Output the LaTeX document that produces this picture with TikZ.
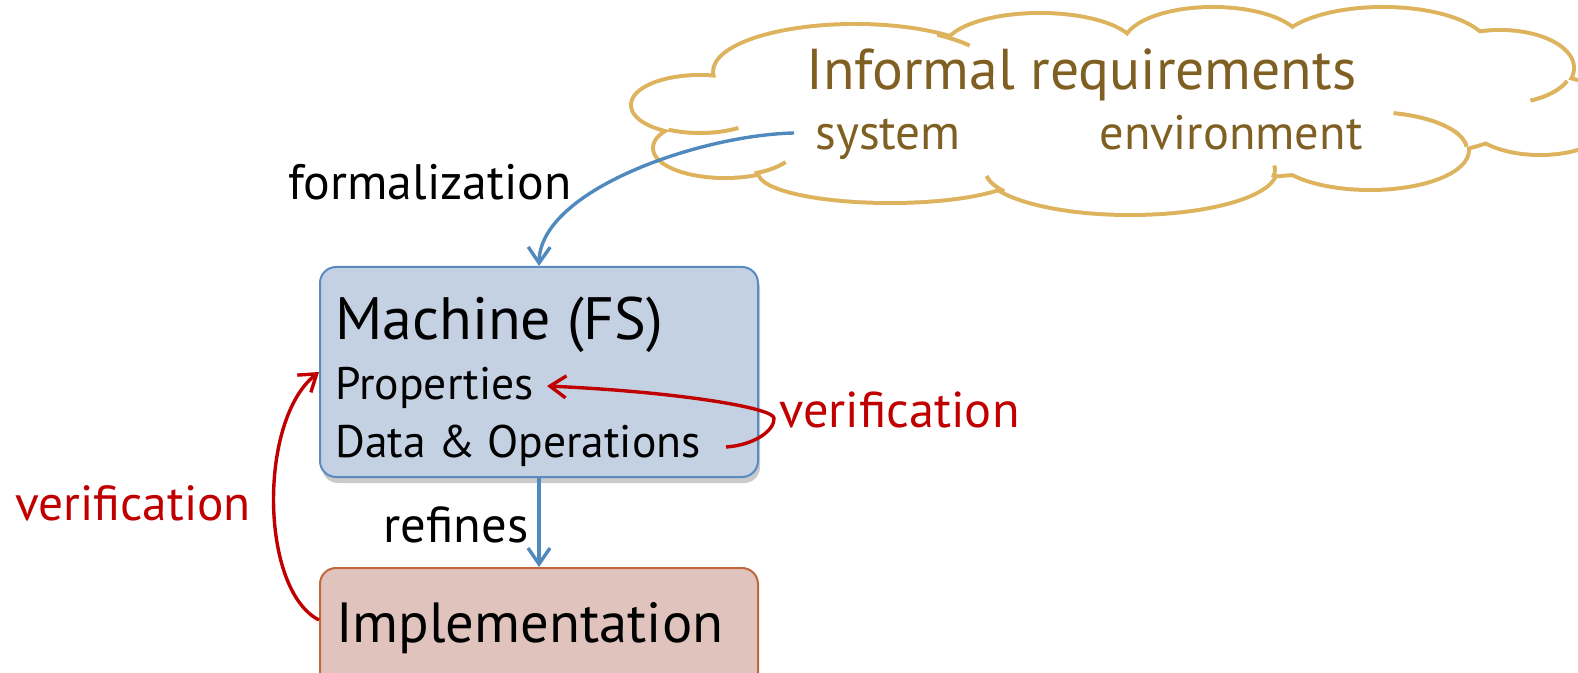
\documentclass[tikz,border=0pt]{standalone}
\usepackage{fontspec}
\setmainfont{PT Sans}
\usetikzlibrary{arrows.meta,shadows}
\definecolor{fsfill}{HTML}{C3D1E2}
\definecolor{fsedge}{HTML}{5A8AC0}
\definecolor{implfill}{HTML}{DFC3BC}
\definecolor{impledge}{HTML}{C0683C}
\definecolor{cloudedge}{HTML}{DDB35E}
\definecolor{cloudtext}{HTML}{7F6022}
\definecolor{arrblue}{HTML}{5089BD}
\definecolor{verred}{HTML}{C00000}
\tikzset{
  lbl/.style={anchor=base west, inner sep=0pt},
  boxnode/.style={rectangle, rounded corners=8pt, line width=1pt, minimum width=219pt, inner sep=0pt},
  refarrow/.style={draw=arrblue, line width=1.7pt, -{Straight Barb[length=8pt,width=11pt]}},
  verarrow/.style={draw=verred, line width=1.7pt, -{Straight Barb[length=8pt,width=11pt]}},
}
\newcommand{\fsz}[1]{\fontsize{#1}{#1}\selectfont}
% puffs of the cloud: centre x / centre y / x radius / y radius
\newcommand{\cloudpuffs}{700/105/67/28, 855/72/140/46, 725/148/70/28, 890/172/130/29,
  1130/170/145/43, 1370/150/97/38, 1540/115/75/38, 1500/68/72/36,
  1383/50/105/41, 1213/45/88/36, 1040/50/95/35, 1110/110/420/70}

\begin{document}
\begin{tikzpicture}[x=0.5pt, y=-0.5pt, line join=round]
\useasboundingbox (0,0) rectangle (1578,673);
% requirements cloud
\foreach \cx/\cy/\rx/\ry in \cloudpuffs
  \draw[cloudedge, line width=4pt] (\cx,\cy) ellipse [x radius=\rx, y radius=\ry];
\foreach \cx/\cy/\rx/\ry in \cloudpuffs
  \fill[white] (\cx,\cy) ellipse [x radius=\rx, y radius=\ry];
\foreach \cx/\cy/\rx/\ry/\sa/\ea in {700/105/67/28/118/55, 725/148/70/28/65/30,
    855/72/140/46/-54/-35, 1500/68/72/36/21/65, 1370/150/97/38/-5/-76,
    1130/170/145/43/150/172, 1130/170/145/43/10/-6}
  \draw[cloudedge, line width=2pt] (\cx,\cy) ++({\rx*cos(\sa)},{\ry*sin(\sa)})
    arc [start angle=\sa, end angle=\ea, x radius=\rx, y radius=\ry];
\node[lbl, font=\fsz{28.8}, text=cloudtext] (informal) at (806,90) {Informal requirements};
\node[lbl, font=\fsz{24.6}, text=cloudtext] (system) at (815,150) {system};
\node[lbl, font=\fsz{24.2}, text=cloudtext] (environment) at (1099,150) {environment};
% boxes
\node[boxnode, fill=fsfill, draw=fsedge, minimum height=105pt,
  drop shadow={shadow xshift=1pt, shadow yshift=-3pt, opacity=0.35, fill=black!60}] (machine) at (539,372) {};
\node[boxnode, fill=implfill, draw=impledge, minimum height=62pt] (impl) at (539,630) {};
\node[lbl, font=\fsz{29.9}] (fsname) at (335,340) {Machine (FS)};
\node[lbl, font=\fsz{22.8}] (props) at (335,400) {Properties};
\node[lbl, font=\fsz{22.8}] (dataops) at (335,457) {Data \& Operations};
\node[lbl, font=\fsz{28.3}] (implname) at (336,642) {Implementation};
% labels
\node[lbl, font=\fsz{24.9}] (formal) at (288,200) {formalization};
\node[lbl, font=\fsz{25.3}] (refines) at (383,542) {refines};
\node[lbl, font=\fsz{25.2}, text=verred] (verright) at (779,427) {verification};
\node[lbl, font=\fsz{24.7}, text=verred] (verleft) at (15,520) {verification};
% arrows
\coordinate (formstart) at (794,133);
\coordinate (verstart) at (726,447);
\coordinate (verturn) at (774,418);
\coordinate (propsend) at (547,386);
\draw[refarrow] (formstart) .. controls (700,135) and (540,190) .. (machine.north);
\draw[refarrow] (machine.south) -- (impl.north);
\draw[verarrow] (verstart) .. controls (755,445) and (775,430) .. (verturn)
  .. controls (773,408) and (680,392) .. (propsend);
\draw[verarrow] ([yshift=5pt]impl.west) .. controls (260,590) and (258,420) .. (machine.west);
\end{tikzpicture}
\end{document}
